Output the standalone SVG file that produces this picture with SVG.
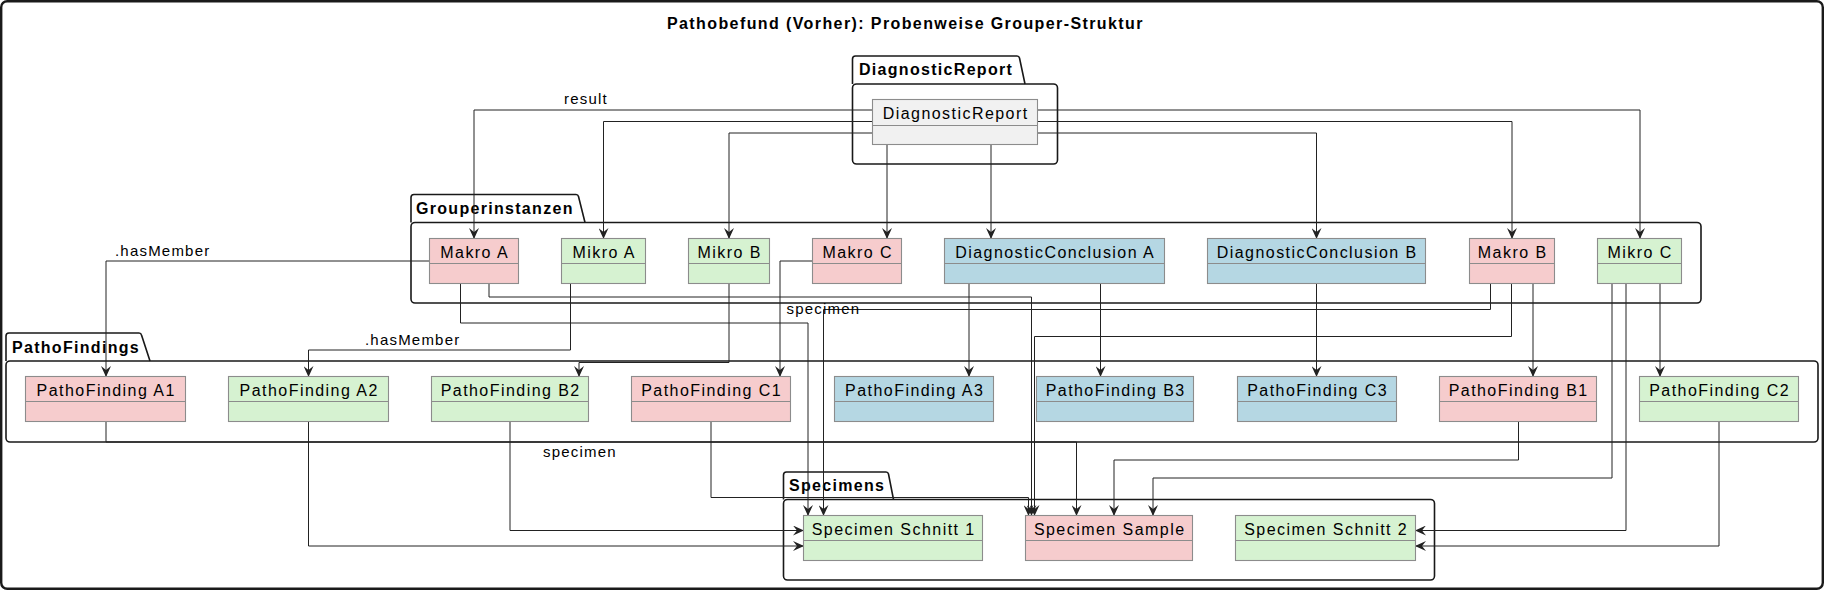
<svg xmlns="http://www.w3.org/2000/svg" width="1824" height="590" viewBox="0 0 1824 590">
<defs>
<marker id="arr" viewBox="0 0 11 10" refX="10.5" refY="5" markerWidth="11" markerHeight="10" markerUnits="userSpaceOnUse" orient="auto">
<path d="M0,0 L11,5 L0,10 L4,5 Z" fill="#222"/>
</marker>
<style>
.pkg{fill:none;stroke:#181818;stroke-width:1.6}
.pl{font-family:"Liberation Sans",Arial,sans-serif;font-size:16px;font-weight:bold;letter-spacing:1.3px;fill:#000}
.node rect{stroke:#8c8c8c;stroke-width:1.1}
.node line{stroke:#8c8c8c;stroke-width:1.1}
.pink rect{fill:#F6CCCD}
.green rect{fill:#D6F2D1}
.blue rect{fill:#B5D7E3}
.gray rect{fill:#F1F1F1}
.nt{font-family:"Liberation Sans",Arial,sans-serif;font-size:16px;letter-spacing:1.45px;fill:#000;text-anchor:middle}
.edges path{fill:none;stroke:#222;stroke-width:1;marker-end:url(#arr)}
.edges path.nm{marker-end:none}
.el{font-family:"Liberation Sans",Arial,sans-serif;font-size:15px;letter-spacing:1.2px;fill:#000}
.title{font-family:"Liberation Sans",Arial,sans-serif;font-size:16px;font-weight:bold;letter-spacing:1.4px;fill:#000}
</style>
</defs>
<rect x="0" y="0" width="1824" height="590" fill="#fff"/>
<rect x="1.2" y="1.2" width="1821.6" height="587.6" rx="6" fill="none" stroke="#1a1a1a" stroke-width="2.4"/>
<text class="title" x="667" y="29">Pathobefund (Vorher): Probenweise Grouper-Struktur</text>

<!-- packages -->
<g id="pkg-diagnosticreport">
<path class="pkg" d="M852.5,84 V59 Q852.5,56 855.5,56 H1017 Q1019,56 1019.5,58 L1025,84"/>
<rect class="pkg" x="852.5" y="84" width="205" height="80" rx="4"/>
<text class="pl" x="859" y="75">DiagnosticReport</text>
</g>
<g id="pkg-grouperinstanzen">
<path class="pkg" d="M411,222.5 V197.5 Q411,194.5 414,194.5 H576 Q578,194.5 578.5,196.5 L585,222.5"/>
<rect class="pkg" x="411" y="222.5" width="1290" height="80.5" rx="4"/>
<text class="pl" x="416" y="214">Grouperinstanzen</text>
</g>
<g id="pkg-pathofindings">
<path class="pkg" d="M6,361 V336 Q6,333 9,333 H139 Q141,333 141.5,335 L150,361"/>
<rect class="pkg" x="6" y="361" width="1812" height="81" rx="4"/>
<text class="pl" x="12" y="353">PathoFindings</text>
</g>
<g id="pkg-specimens">
<path class="pkg" d="M783.5,499.5 V475 Q783.5,472 786.5,472 H886 Q888,472 888.5,474 L893.5,499.5"/>
<rect class="pkg" x="783.5" y="499.5" width="651" height="80.5" rx="4"/>
<text class="pl" x="789" y="491">Specimens</text>
</g>

<!-- connectors -->
<g class="edges" id="connectors">
<path d="M872.5,110 H474 V238.5"/>
<path d="M872.5,121.5 H603.5 V238.5"/>
<path d="M872.5,133 H729 V238.5"/>
<path d="M887,144.5 V238.5"/>
<path d="M991,144.5 V238.5"/>
<path d="M1037.5,133 H1316.5 V238.5"/>
<path d="M1037.5,121.5 H1512 V238.5"/>
<path d="M1037.5,110 H1640 V238.5"/>
<path d="M429.5,261 H106 V376.5"/>
<path d="M460.5,283.5 V323 H808 V515.5"/>
<path d="M489,283.5 V297 H1031.5 V515.5"/>
<path d="M570.5,283.5 V350 H308.5 V376.5"/>
<path d="M729,283.5 V362.5 H579 V376.5"/>
<path d="M812.5,261 H780 V376.5"/>
<path d="M969,283.5 V376.5"/>
<path d="M1100.5,283.5 V376.5"/>
<path d="M1316.5,283.5 V376.5"/>
<path d="M1490.5,283.5 V309.5 H823.5 V515.5"/>
<path d="M1511.5,283.5 V336.5 H1034.5 V515.5"/>
<path d="M1533,283.5 V376.5"/>
<path d="M1612,283.5 V478 H1153 V515.5"/>
<path d="M1626,283.5 V530.5 H1415.5"/>
<path d="M1660,283.5 V376.5"/>
<path d="M106,421.5 V442 H1076.5 V515.5"/>
<path d="M308.5,421.5 V546 H803.5"/>
<path d="M510,421.5 V530.5 H803.5"/>
<path d="M711,421.5 V497.5 H1028.5 V515.5"/>
<path d="M1518.5,421.5 V460 H1114 V515.5"/>
<path d="M1719,421.5 V546 H1415.5"/>
<text class="el" x="564" y="104">result</text>
<text class="el" x="115" y="256">.hasMember</text>
<text class="el" x="365" y="345">.hasMember</text>
<text class="el" x="786.5" y="314">specimen</text>
<text class="el" x="543" y="457">specimen</text>
</g>

<!-- nodes -->
<g id="node-diagnosticreport" class="node gray">
<rect x="872.5" y="99.5" width="165" height="45"/><line x1="872.5" y1="125.5" x2="1037.5" y2="125.5"/>
<text class="nt" x="955.7" y="119">DiagnosticReport</text></g>

<g id="node-makro-a" class="node pink">
<rect x="429.5" y="238.5" width="89" height="45"/><line x1="429.5" y1="263.5" x2="518.5" y2="263.5"/>
<text class="nt" x="474.7" y="258">Makro A</text></g>
<g id="node-mikro-a" class="node green">
<rect x="561.5" y="238.5" width="84" height="45"/><line x1="561.5" y1="263.5" x2="645.5" y2="263.5"/>
<text class="nt" x="604.2" y="258">Mikro A</text></g>
<g id="node-mikro-b" class="node green">
<rect x="688.5" y="238.5" width="81" height="45"/><line x1="688.5" y1="263.5" x2="769.5" y2="263.5"/>
<text class="nt" x="729.7" y="258">Mikro B</text></g>
<g id="node-makro-c" class="node pink">
<rect x="812.5" y="238.5" width="89" height="45"/><line x1="812.5" y1="263.5" x2="901.5" y2="263.5"/>
<text class="nt" x="857.7" y="258">Makro C</text></g>
<g id="node-dc-a" class="node blue">
<rect x="944.5" y="238.5" width="220" height="45"/><line x1="944.5" y1="263.5" x2="1164.5" y2="263.5"/>
<text class="nt" x="1055.2" y="258">DiagnosticConclusion A</text></g>
<g id="node-dc-b" class="node blue">
<rect x="1207.5" y="238.5" width="218" height="45"/><line x1="1207.5" y1="263.5" x2="1425.5" y2="263.5"/>
<text class="nt" x="1317.2" y="258">DiagnosticConclusion B</text></g>
<g id="node-makro-b" class="node pink">
<rect x="1469.5" y="238.5" width="85" height="45"/><line x1="1469.5" y1="263.5" x2="1554.5" y2="263.5"/>
<text class="nt" x="1512.7" y="258">Makro B</text></g>
<g id="node-mikro-c" class="node green">
<rect x="1597.5" y="238.5" width="84" height="45"/><line x1="1597.5" y1="263.5" x2="1681.5" y2="263.5"/>
<text class="nt" x="1640.2" y="258">Mikro C</text></g>

<g id="node-pf-a1" class="node pink">
<rect x="25.5" y="376.5" width="160" height="45"/><line x1="25.5" y1="401.5" x2="185.5" y2="401.5"/>
<text class="nt" x="106.2" y="396">PathoFinding A1</text></g>
<g id="node-pf-a2" class="node green">
<rect x="228.5" y="376.5" width="160" height="45"/><line x1="228.5" y1="401.5" x2="388.5" y2="401.5"/>
<text class="nt" x="309.2" y="396">PathoFinding A2</text></g>
<g id="node-pf-b2" class="node green">
<rect x="431.5" y="376.5" width="157" height="45"/><line x1="431.5" y1="401.5" x2="588.5" y2="401.5"/>
<text class="nt" x="510.7" y="396">PathoFinding B2</text></g>
<g id="node-pf-c1" class="node pink">
<rect x="631.5" y="376.5" width="159" height="45"/><line x1="631.5" y1="401.5" x2="790.5" y2="401.5"/>
<text class="nt" x="711.7" y="396">PathoFinding C1</text></g>
<g id="node-pf-a3" class="node blue">
<rect x="834.5" y="376.5" width="159" height="45"/><line x1="834.5" y1="401.5" x2="993.5" y2="401.5"/>
<text class="nt" x="914.7" y="396">PathoFinding A3</text></g>
<g id="node-pf-b3" class="node blue">
<rect x="1036.5" y="376.5" width="157" height="45"/><line x1="1036.5" y1="401.5" x2="1193.5" y2="401.5"/>
<text class="nt" x="1115.7" y="396">PathoFinding B3</text></g>
<g id="node-pf-c3" class="node blue">
<rect x="1237.5" y="376.5" width="159" height="45"/><line x1="1237.5" y1="401.5" x2="1396.5" y2="401.5"/>
<text class="nt" x="1317.7" y="396">PathoFinding C3</text></g>
<g id="node-pf-b1" class="node pink">
<rect x="1439.5" y="376.5" width="157" height="45"/><line x1="1439.5" y1="401.5" x2="1596.5" y2="401.5"/>
<text class="nt" x="1518.7" y="396">PathoFinding B1</text></g>
<g id="node-pf-c2" class="node green">
<rect x="1639.5" y="376.5" width="159" height="45"/><line x1="1639.5" y1="401.5" x2="1798.5" y2="401.5"/>
<text class="nt" x="1719.7" y="396">PathoFinding C2</text></g>

<g id="node-specimen-schnitt-1" class="node green">
<rect x="803.5" y="515.5" width="179" height="45"/><line x1="803.5" y1="540.5" x2="982.5" y2="540.5"/>
<text class="nt" x="893.7" y="535">Specimen Schnitt 1</text></g>
<g id="node-specimen-sample" class="node pink">
<rect x="1025.5" y="515.5" width="167" height="45"/><line x1="1025.5" y1="540.5" x2="1192.5" y2="540.5"/>
<text class="nt" x="1109.7" y="535">Specimen Sample</text></g>
<g id="node-specimen-schnitt-2" class="node green">
<rect x="1235.5" y="515.5" width="180" height="45"/><line x1="1235.5" y1="540.5" x2="1415.5" y2="540.5"/>
<text class="nt" x="1326.2" y="535">Specimen Schnitt 2</text></g>
</svg>
